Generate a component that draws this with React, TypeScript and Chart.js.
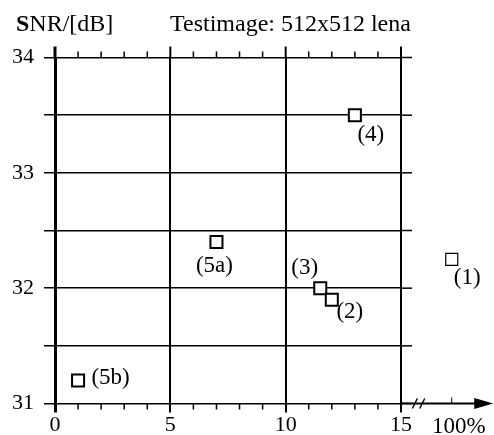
import React, { useEffect, useRef } from 'react';
import { Chart, registerables } from 'chart.js';

Chart.register(...registerables);

// ---- data ----
const pointLabels = ['(4)', '(5a)', '(3)', '(2)', '(1)', '(5b)'];
const xValues = [13, 7, 11.5, 12, 17.2, 1]; // 17.2 = position of the "100%" break tick
const yValues = [33.5, 32.4, 32.0, 31.9, 32.25, 31.2];

const xTicks = [0, 5, 10, 15];
const xMinorTicks = [1, 2, 3, 4, 6, 7, 8, 9, 11, 12, 13, 14];
const yTickLabels = [31, 32, 33, 34];
const yMin = 31;
const yMax = 34;
const yStep = 0.5;
const fullValue = 17.2;
const fullLabel = '100%';
const breakValues = [15.6, 15.92];
const axisEndValue = 19;

const yTitleBold = 'S';
const yTitleRest = 'NR/[dB]';
const chartTitle = 'Testimage: 512x512 lena';

// label offsets from their markers (styling)
const labelOffsets = [
  [16, 20],
  [-2, 23.5],
  [-15.5, -20],
  [18, 12],
  [15.5, 19],
  [32.5, -2],
];

const FONT = '"Liberation Serif", "Times New Roman", serif';

export default function App() {
  const ref = useRef<HTMLCanvasElement>(null);

  useEffect(() => {
    if (!ref.current) return;

    const deco = {
      id: 'deco',
      afterDatasetsDraw(chart: any) {
        // draw markers that lie beyond the chart area (the "100%" point)
        const ctx = chart.ctx as CanvasRenderingContext2D;
        const { left, right, top, bottom } = chart.chartArea;
        chart.getDatasetMeta(0).data.forEach((el: any) => {
          if (el.x < left || el.x > right || el.y < top || el.y > bottom) {
            el.draw(ctx);
          }
        });
      },
      afterDraw(chart: any) {
        const ctx = chart.ctx as CanvasRenderingContext2D;
        const xs = chart.scales.x;
        const ys = chart.scales.y;
        const { top, bottom, right } = chart.chartArea;
        const line = (x1: number, y1: number, x2: number, y2: number) => {
          ctx.beginPath();
          ctx.moveTo(x1, y1);
          ctx.lineTo(x2, y2);
          ctx.stroke();
        };
        ctx.save();
        ctx.strokeStyle = '#000';
        ctx.fillStyle = '#000';

        // vertical lines extending above the top
        xTicks.forEach((v, i) => {
          const px = xs.getPixelForValue(v);
          ctx.lineWidth = i === 0 ? 3 : 2;
          line(px, top, px, top - 11);
        });

        // horizontal lines extending past the right
        ctx.lineWidth = 1.5;
        for (let v = yMin; v <= yMax + 1e-9; v += yStep) {
          const py = ys.getPixelForValue(v);
          line(right, py, right + 11, py);
        }

        // minor ticks top and bottom
        ctx.lineWidth = 1.5;
        xMinorTicks.forEach((v) => {
          const px = xs.getPixelForValue(v);
          line(px, top, px, top - 6);
          line(px, bottom, px, bottom + 6);
        });

        // x-axis extension with arrow
        const tip = xs.getPixelForValue(axisEndValue);
        ctx.lineWidth = 2;
        line(right, bottom, tip - 12, bottom);
        ctx.beginPath();
        ctx.moveTo(tip, bottom);
        ctx.lineTo(tip - 19, bottom - 5.5);
        ctx.lineTo(tip - 19, bottom + 5.5);
        ctx.closePath();
        ctx.fill();

        // break marks
        ctx.lineWidth = 1.5;
        breakValues.forEach((v) => {
          const px = xs.getPixelForValue(v);
          line(px - 2.5, bottom + 5, px + 2.5, bottom - 5);
        });

        // 100% tick and label
        const fx = xs.getPixelForValue(fullValue);
        ctx.lineWidth = 1;
        line(fx, bottom, fx, bottom - 6);
        ctx.font = `23px ${FONT}`;
        ctx.textAlign = 'center';
        ctx.textBaseline = 'alphabetic';
        ctx.fillText(fullLabel, fx + 7, 432.5);

        // point labels
        ctx.font = `23px ${FONT}`;
        ctx.textAlign = 'center';
        ctx.textBaseline = 'middle';
        pointLabels.forEach((lab, i) => {
          const px = xs.getPixelForValue(xValues[i]);
          const py = ys.getPixelForValue(yValues[i]);
          ctx.fillText(lab, px + labelOffsets[i][0], py + labelOffsets[i][1]);
        });

        // titles
        ctx.textAlign = 'left';
        ctx.textBaseline = 'alphabetic';
        ctx.font = `bold 24px ${FONT}`;
        ctx.fillText(yTitleBold, 16, 31);
        const w = ctx.measureText(yTitleBold).width;
        ctx.font = `24px ${FONT}`;
        ctx.fillText(yTitleRest, 16 + w, 31);
        ctx.fillText(chartTitle, 170, 31);

        ctx.restore();
      },
    };

    const chart = new Chart(ref.current, {
      type: 'scatter',
      data: {
        datasets: [
          {
            data: xValues.map((x, i) => ({ x, y: yValues[i] })),
            pointStyle: 'rect',
            pointRadius: 8.5,
            pointHoverRadius: 8.5,
            pointBorderWidth: ((c: any) => (c.dataIndex === 4 ? 1.2 : 2)) as any,
            pointBorderColor: '#000',
            pointBackgroundColor: '#fff',
            clip: false as any,
          },
        ],
      },
      options: {
        animation: false,
        responsive: true,
        maintainAspectRatio: false,
        events: [],
        layout: { padding: { top: 57.5, right: 93, left: 0, bottom: 0 } },
        plugins: { legend: { display: false }, tooltip: { enabled: false } },
        scales: {
          x: {
            type: 'linear',
            min: 0,
            max: 15,
            afterBuildTicks: (s: any) => {
              s.ticks = xTicks.map((v) => ({ value: v }));
            },
            afterFit: (s: any) => {
              s.height = 31.5;
            },
            border: { display: false },
            grid: {
              color: '#000',
              lineWidth: ((c: any) => (c.index === 0 ? 3 : 2)) as any,
              tickLength: 9,
            },
            ticks: {
              color: '#000',
              font: { family: FONT, size: 22 },
              padding: 0,
              maxRotation: 0,
              autoSkip: false,
            },
          },
          y: {
            type: 'linear',
            min: yMin,
            max: yMax,
            afterFit: (s: any) => {
              s.width = 55;
            },
            border: { display: false },
            grid: { color: '#000', lineWidth: 1.5, tickLength: 11 },
            ticks: {
              stepSize: yStep,
              color: '#000',
              font: { family: FONT, size: 22 },
              padding: 10,
              callback: (v: any) => (yTickLabels.includes(Number(v)) ? String(v) : ''),
            },
          },
        },
      },
      plugins: [deco],
    });
    return () => chart.destroy();
  }, []);

  return (
    <div style={{ position: 'fixed', left: 0, top: 0, width: 494, height: 435, background: '#fff' }}>
      <canvas ref={ref} />
    </div>
  );
}
